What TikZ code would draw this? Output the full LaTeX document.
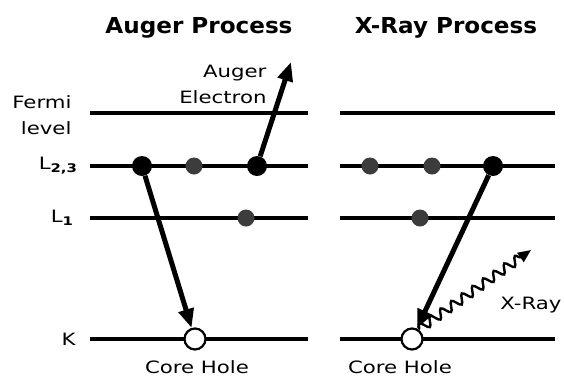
\documentclass[tikz,border=0pt]{standalone}
\usepackage{fontspec}
\setmainfont{DejaVu Sans}[FakeStretch=1.25]
\newfontfamily\headfont{DejaVu Sans}[FakeStretch=1.05]
\usetikzlibrary{arrows.meta, decorations.pathmorphing}
\definecolor{dotgray}{RGB}{60,60,60}

\tikzset{
  shell/.style={line width=4.2pt},
  full/.style={circle, fill=black, inner sep=0pt, minimum size=20pt},
  half/.style={circle, fill=dotgray, inner sep=0pt, minimum size=17pt},
  hole/.style={circle, draw=black, fill=white, line width=2.2pt,
               inner sep=0pt, minimum size=21pt},
  jump/.style={line width=5pt, -{Triangle[length=19pt, width=15pt]}},
  photon/.style={line width=2.4pt, decorate,
                 decoration={snake, amplitude=4.5pt, segment length=13pt,
                             post length=10pt},
                 -{Triangle[length=13pt, width=11pt]}},
  lbl/.style={font=\fontsize{17}{26}\selectfont},
  head/.style={font=\headfont\bfseries\fontsize{22}{26}\selectfont}
}

\begin{document}
\begin{tikzpicture}[x=1pt, y=-1pt]
  \useasboundingbox (0,0) rectangle (564,381);
  % headings
  \node[head, anchor=base] (tA) at (199,33) {Auger Process};
  \node[head, anchor=base] (tX) at (446,33) {X-Ray Process};
  % level names
  \node[lbl, align=right, anchor=east] (lF) at (75,115) {Fermi\\level};
  \node[lbl, anchor=east] (lL23) at (81,166) {L\textsubscript{\bfseries 2,3}};
  \node[lbl, anchor=east] (lL1) at (77,218) {L\textsubscript{\bfseries 1}};
  \node[lbl, anchor=east] (lK) at (79,339) {K};
  % energy levels
  \foreach \y in {113,166,218,339} {
    \draw[shell] (90,\y) -- (308,\y);
    \draw[shell] (340,\y) -- (555,\y);
  }
  % left: auger
  \node[full] (a1) at (142,166) {};
  \node[half] (a2) at (194,166) {};
  \node[full] (a3) at (257,166) {};
  \node[half] (a4) at (246,218) {};
  \node[hole] (hA) at (195,339) {};
  \coordinate (eA) at (291,62);
  \draw[jump] (a1) -- (hA);
  \draw[jump] (a3) -- (eA);
  \node[lbl, align=right, anchor=east] (nE) at (270,84) {Auger\\Electron};
  \node[lbl] (nHA) at (197,367) {Core Hole};
  % right: x-ray
  \node[half] (x1) at (370,166) {};
  \node[half] (x2) at (432,166) {};
  \node[full] (x3) at (493,166) {};
  \node[half] (x4) at (420,218) {};
  \node[hole] (hX) at (412,339) {};
  \coordinate (pX) at (531,250);
  \draw[jump] (x3) -- (hX);
  \draw[photon] (hX.55) -- (pX);
  \node[lbl] (nX) at (531,305) {X-Ray};
  \node[lbl] (nHX) at (400,367) {Core Hole};
\end{tikzpicture}
\end{document}
